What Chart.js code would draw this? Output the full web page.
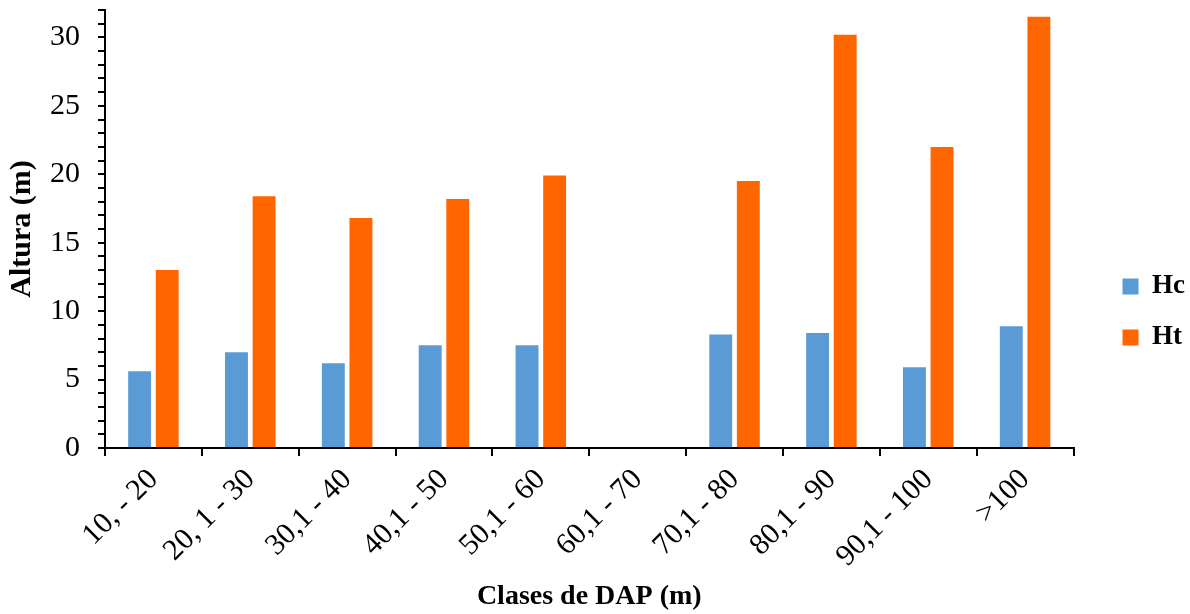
<!DOCTYPE html>
<html>
<head>
<meta charset="utf-8">
<script src="https://cdn.jsdelivr.net/npm/chart.js@4/dist/chart.umd.min.js"></script>
<style>
  html, body { margin: 0; padding: 0; background: #fff; }
  #wrap { width: 1190px; height: 614px; position: relative; }
</style>
</head>
<body>
<div id="wrap"><canvas id="c" width="1190" height="614"></canvas></div>
<script>
const categories = ["10, - 20", "20, 1 - 30", "30,1 - 40", "40,1 - 50", "50,1 - 60", "60,1 - 70", "70,1 - 80", "80,1 - 90", "90,1 - 100", ">100"];
const hcValues = [5.6, 7.0, 6.2, 7.5, 7.5, 0, 8.3, 8.4, 5.9, 8.9];
const htValues = [13.0, 18.4, 16.8, 18.2, 19.9, 0, 19.5, 30.2, 22.0, 31.5];
const seriesNames = ["Hc", "Ht"];
const yLabeledTicks = [0, 5, 10, 15, 20, 25, 30];

const serif = "'Liberation Serif', 'Times New Roman', serif";

const shiftLegend = {
  id: 'shiftLegend',
  afterLayout(chart) {
    const lg = chart.legend;
    if (lg) { lg.left += 25; lg.right += 25; }
  }
};

new Chart(document.getElementById('c'), {
  type: 'bar',
  data: {
    labels: categories,
    datasets: [
      { label: seriesNames[0], data: hcValues, backgroundColor: '#5B9BD5', borderWidth: 0,
        categoryPercentage: 0.57, barPercentage: 0.83 },
      { label: seriesNames[1], data: htValues, backgroundColor: '#FF6600', borderWidth: 0,
        categoryPercentage: 0.57, barPercentage: 0.83 }
    ]
  },
  plugins: [shiftLegend],
  options: {
    responsive: false,
    animation: false,
    devicePixelRatio: 1,
    layout: { padding: { top: 10, left: 0, right: 20, bottom: 0 } },
    plugins: {
      tooltip: { enabled: false },
      legend: {
        position: 'right',
        align: 'center',
        labels: {
          color: '#000',
          font: { family: serif, size: 27, weight: 'bold' },
          boxWidth: 16,
          boxHeight: 16,
          padding: 24
        }
      }
    },
    scales: {
      x: {
        grid: { display: true, drawOnChartArea: false, drawTicks: true, tickLength: 8, color: '#000', lineWidth: 2, offset: true },
        border: { display: true, color: '#000', width: 2 },
        ticks: {
          color: '#000',
          font: { family: serif, size: 30 },
          maxRotation: 45, minRotation: 45,
          autoSkip: false,
          padding: 6
        },
        title: {
          display: true,
          text: 'Clases de DAP (m)',
          color: '#000',
          font: { family: serif, size: 28, weight: 'bold' },
          padding: { top: 0, bottom: 0 }
        },
        afterFit: (s) => { s.height = 614 - 448; s.paddingLeft = 0; s.paddingRight = 0; }
      },
      y: {
        min: 0, max: 32,
        grid: { display: true, drawOnChartArea: false, drawTicks: true, tickLength: 7, color: '#000', lineWidth: 2 },
        border: { display: true, color: '#000', width: 2 },
        ticks: {
          stepSize: 1,
          autoSkip: false,
          color: '#000',
          font: { family: serif, size: 30 },
          padding: 18,
          callback: (v) => yLabeledTicks.includes(v) ? String(v) : ''
        },
        title: {
          display: true,
          text: 'Altura (m)',
          color: '#000',
          font: { family: serif, size: 30, weight: 'bold' },
          padding: { top: 4, bottom: 0 }
        },
        afterFit: (s) => { s.width = 105; s.paddingTop = 0; s.paddingBottom = 0; }
      }
    }
  }
});
</script>
</body>
</html>
